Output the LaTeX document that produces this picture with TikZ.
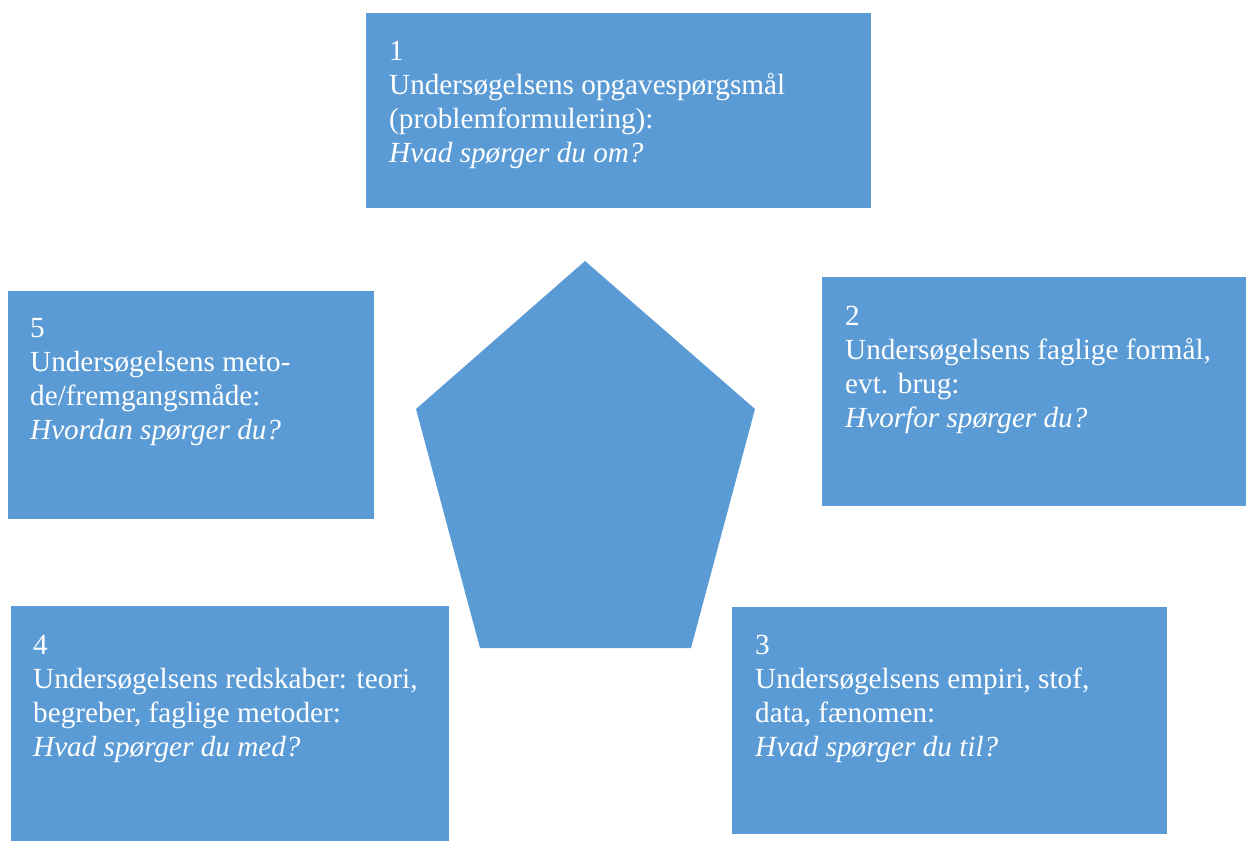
\documentclass[tikz,border=0pt]{standalone}
\usepackage{fontspec}
\setmainfont{Liberation Serif}
\definecolor{boxblue}{HTML}{5B9BD5}
\begin{document}
\begin{tikzpicture}[x=1pt,y=-1pt,
  panel/.style={fill=boxblue,draw=none,rectangle,inner sep=0pt,anchor=north west},
  paneltext/.style={text=white,inner sep=0pt,anchor=base west,font=\fontsize{29.2pt}{34pt}\selectfont}]
\useasboundingbox (0,0) rectangle (1246,841);
% boxes
\node[panel,minimum width=505pt,minimum height=195pt] (b1) at (366,13) {};
\node[panel,minimum width=424pt,minimum height=229pt] (b2) at (822,277) {};
\node[panel,minimum width=435pt,minimum height=227pt] (b3) at (732,607) {};
\node[panel,minimum width=438pt,minimum height=235pt] (b4) at (11,606) {};
\node[panel,minimum width=366pt,minimum height=228pt] (b5) at (8,291) {};
% pentagon
\coordinate (p1) at (585,261);
\coordinate (p2) at (755,409);
\coordinate (p3) at (691,648);
\coordinate (p4) at (480,648);
\coordinate (p5) at (416,409);
\fill[boxblue] (p1) -- (p2) -- (p3) -- (p4) -- (p5) -- cycle;
% texts
\node[paneltext] (t1) at ([shift={(23pt,-47pt)}]b1.north west) {\parbox[t]{480pt}{\raggedright 1\\Undersøgelsens opgavespørgsmål\\(problemformulering):\\\textit{Hvad spørger du om?}}};
\node[paneltext] (t2) at ([shift={(23pt,-48pt)}]b2.north west) {\parbox[t]{400pt}{\raggedright 2\\Undersøgelsens faglige formål,\\evt. brug:\\\textit{Hvorfor spørger du?}}};
\node[paneltext] (t3) at ([shift={(23pt,-47pt)}]b3.north west) {\parbox[t]{410pt}{\raggedright 3\\Undersøgelsens empiri, stof,\\data, fænomen:\\\textit{Hvad spørger du til?}}};
\node[paneltext] (t4) at ([shift={(22pt,-48pt)}]b4.north west) {\parbox[t]{415pt}{\raggedright 4\\Undersøgelsens redskaber: teori,\\begreber, faglige metoder:\\\textit{Hvad spørger du med?}}};
\node[paneltext] (t5) at ([shift={(22pt,-46pt)}]b5.north west) {\parbox[t]{340pt}{\raggedright 5\\Undersøgelsens meto-\\de/fremgangsmåde:\\\textit{Hvordan spørger du?}}};
\end{tikzpicture}
\end{document}
